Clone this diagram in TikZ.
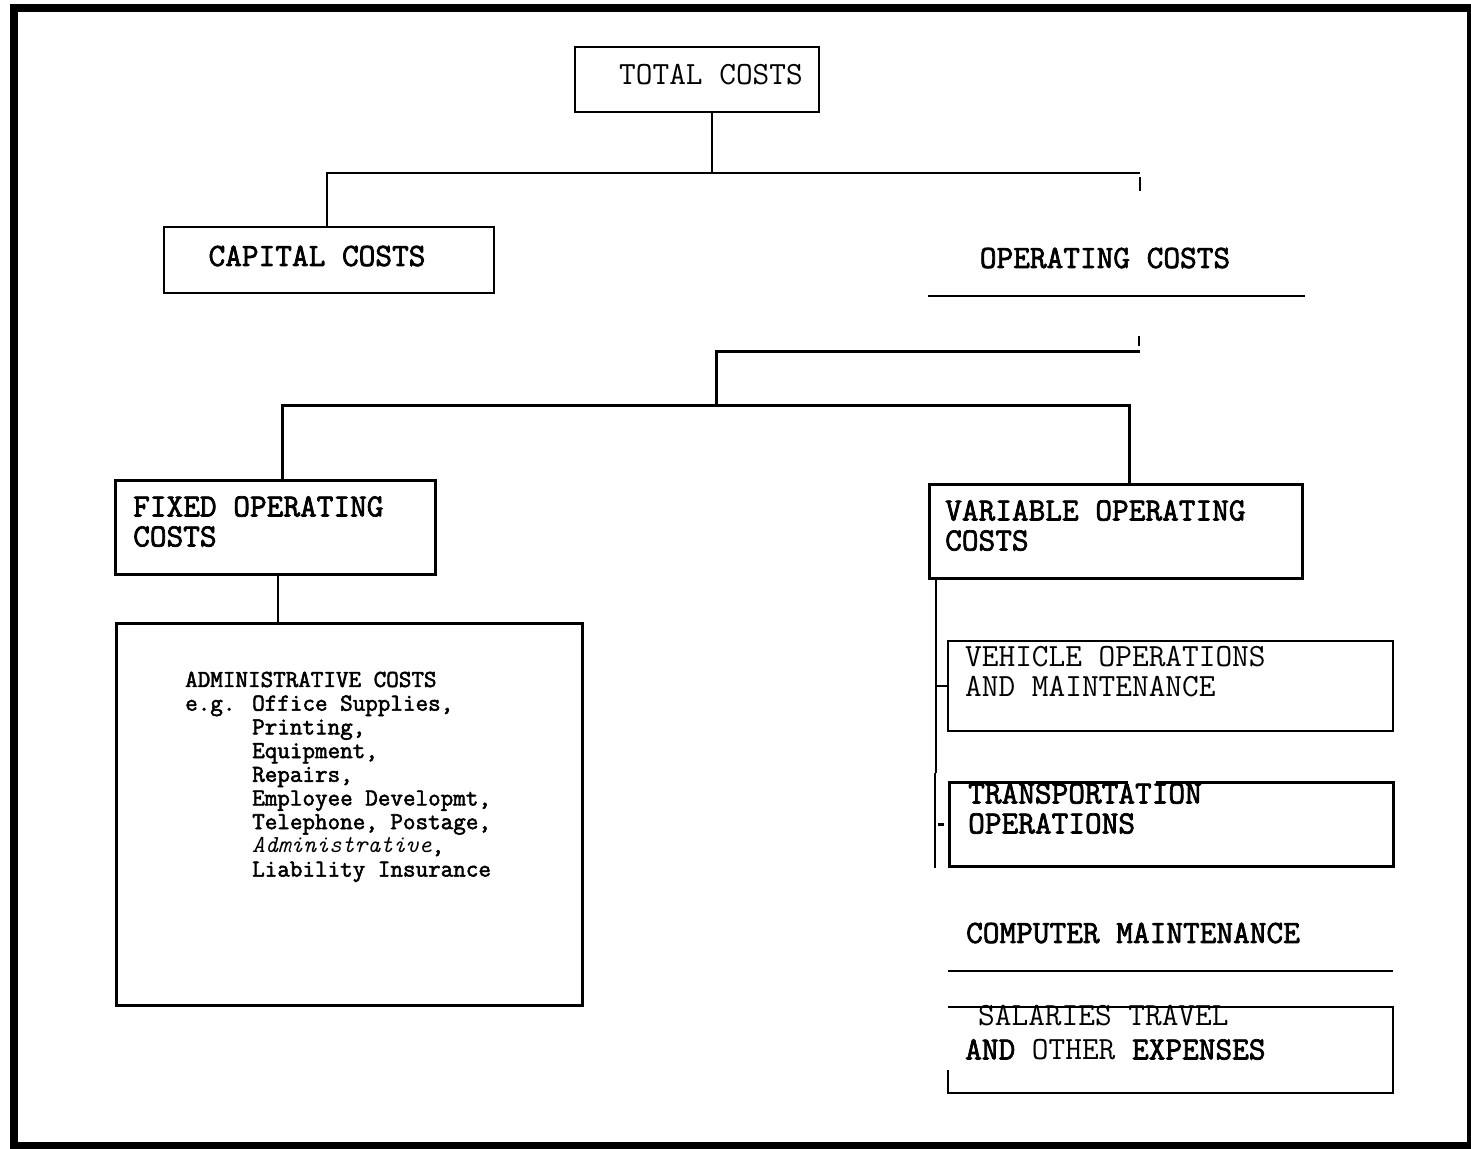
\documentclass[tikz,border=0pt]{standalone}
\usepackage{fontspec}
\newfontfamily\courbold{Latin Modern Mono}[FakeBold=2.2]
\usetikzlibrary{fit}
\begin{document}
\begin{tikzpicture}[x=1pt,y=-1pt,
  boxd/.style={draw, line width=2.6pt, inner sep=0pt},
  conn/.style={line width=2.6pt},
  big/.style={font=\courbold\fontsize{32.4}{30}\selectfont, inner sep=0pt},
  bigr/.style={font=\ttfamily\fontsize{32.4}{30}\selectfont, inner sep=0pt},
  small/.style={font=\courbold\fontsize{24.4}{23.7}\selectfont, inner sep=0pt, align=left}]
\useasboundingbox (0,0) rectangle (1471,1148);
% frame
\draw[line width=8pt] (14,8.5) rectangle (1471,1146);

% boxes
\node[boxd, line width=1.6pt, fit={(575,47) (819,112)}] (total) {};
\node[bigr] (totalt) at (711,75) {TOTAL COSTS};

\node[boxd, fit={(164,227) (494,293)}] (capital) {};
\node[big] (capitalt) at (317,256) {CAPITAL COSTS};

\node[big] (opc) at (1105,258) {OPERATING COSTS};
\coordinate (u1a) at (928,296);
\coordinate (u1b) at (1305,296);
\draw[conn] (u1a) -- (u1b);

\node[boxd, line width=3pt, fit={(115,480) (435,574)}] (fixed) {};
\node[big, anchor=north west, align=left] (fixedt) at (133,496) {FIXED OPERATING\\COSTS};

\node[boxd, line width=3pt, fit={(116,623) (582,1005)}] (admin) {};
\node[small, anchor=north west] (admint) at (185,671.5) {ADMINISTRATIVE COSTS\\
e.g. Office Supplies,\\
\hphantom{e.g. }Printing,\\
\hphantom{e.g. }Equipment,\\
\hphantom{e.g. }Repairs,\\
\hphantom{e.g. }Employee Developmt,\\
\hphantom{e.g. }Telephone, Postage,\\
\hphantom{e.g. }{\ttfamily\itshape Administrative},\\
\hphantom{e.g. }Liability Insurance};

\node[boxd, line width=3pt, fit={(929,484) (1302,578)}] (variable) {};
\node[big, anchor=north west, align=left] (variablet) at (945,500) {VARIABLE OPERATING\\COSTS};

\node[boxd, line width=2pt, fit={(948,641) (1393,731)}] (vehicle) {};
\node[bigr, anchor=north west, align=left] (vehiclet) at (965,646) {VEHICLE OPERATIONS\\AND MAINTENANCE};

% transportation box (gap in top edge)
\coordinate (t1) at (1128,782);
\coordinate (t2) at (949,782);
\coordinate (t3) at (949,866);
\coordinate (t4) at (1393,866);
\coordinate (t5) at (1393,782);
\coordinate (t6) at (1156,782);
\draw[conn, line width=3pt] (t1) -- (t2) -- (t3) -- (t4) -- (t5) -- (t6);
\node[big, anchor=north west, align=left] (transt) at (968,783) {TRANSPORTATION\\OPERATIONS};

\node[big] (compt) at (1133,933) {COMPUTER MAINTENANCE};
\coordinate (u2a) at (948,971);
\coordinate (u2b) at (1393,971);
\draw[conn] (u2a) -- (u2b);

% salaries box (partial)
\coordinate (s1) at (948,1070);
\coordinate (s2) at (948,1093);
\coordinate (s3) at (1393,1093);
\coordinate (s4) at (1393,1007);
\coordinate (s5) at (948,1007);
\draw[conn] (s1) -- (s2) -- (s3) -- (s4) -- (s5);
\node[bigr, anchor=north west] (salt1) at (978,1005) {SALARIES TRAVEL};
\node[big, anchor=north west] (salt2) at (965,1039) {AND {\ttfamily OTHER} EXPENSES};

% connectors
\coordinate (jA) at (712,173);
\coordinate (jL) at (327,173);
\coordinate (jR) at (1140,173);
\coordinate (k1) at (1140,177);
\coordinate (k2) at (1140,191);
\draw[conn, line width=1.6pt] (total.south -| jA) -- (jA);
\draw[conn] (capital.north -| jL) -- (jL) -- (jR);
\draw[conn, line width=2pt] (k1) -- (k2);

\coordinate (k3) at (1139,336);
\coordinate (k4) at (1139,346);
\draw[conn, line width=2pt] (k3) -- (k4);
\coordinate (jB) at (1140,351);
\coordinate (jC) at (716,351);
\coordinate (jD) at (716,405);
\coordinate (jE) at (282,405);
\coordinate (jF) at (1129,405);
\draw[conn, line width=3pt] (jB) -- (jC) -- (jD);
\draw[conn, line width=3pt] (fixed.north -| jE) -- (jE) -- (jF) -- (variable.north -| jF);

\coordinate (jG) at (278,600);
\draw[conn] (fixed.south -| jG) -- (admin.north -| jG);

\coordinate (v1) at (936,773);
\coordinate (v2) at (935,773);
\coordinate (v3) at (935,868);
\coordinate (v4) at (936,686);
\draw[conn] (variable.south -| v1) -- (v1);
\draw[conn] (v2) -- (v3);
\draw[conn] (v4) -- (vehicle.west |- v4);
\coordinate (v5) at (938,824);
\coordinate (v6) at (944,824);
\draw[conn, line width=3pt] (v5) -- (v6);
\end{tikzpicture}
\end{document}
